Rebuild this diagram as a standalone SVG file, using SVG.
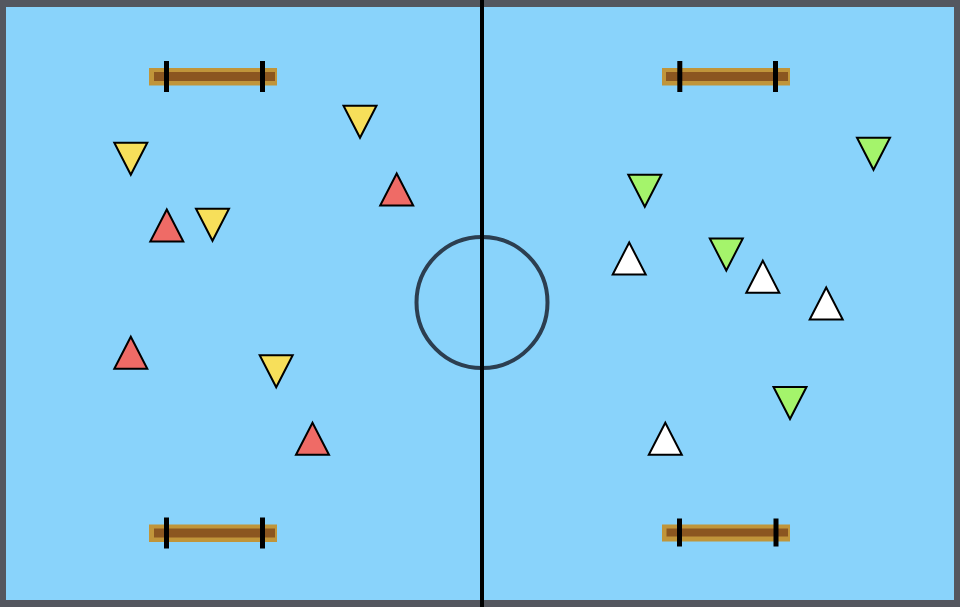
<svg xmlns="http://www.w3.org/2000/svg" xmlns:xlink="http://www.w3.org/1999/xlink" width="960" height="607" viewBox="0 0 960 607">
<style>
.bench-outer{fill:#c0953a}
.bench-inner{fill:#8b5620}
.post{fill:#000}
.tri{stroke:#000;stroke-width:2;stroke-linejoin:miter}
.yellow{fill:#f7df5a}
.red{fill:#ef6b66}
.green{fill:#a4f46b}
.white{fill:#ffffff}
</style>
<defs>
<path id="up" d="M0,-16.5 L16.5,15.5 L-16.5,15.5 Z"/>
<path id="down" d="M-16.5,-15.5 L16.5,-15.5 L0,16.5 Z"/>
<g id="bench">
<rect class="bench-outer" x="0" y="0" width="128" height="17.5"/>
<rect class="bench-inner" x="5" y="4" width="121" height="9"/>
<rect class="post" x="15" y="-7" width="5" height="31"/>
<rect class="post" x="111" y="-7" width="5" height="31"/>
</g>
</defs>
<g id="field">
<rect x="0" y="0" width="960" height="607" fill="#54575f"/>
<rect x="6" y="7" width="948" height="593" fill="#89d3fb"/>
<circle cx="482" cy="302.5" r="65.5" fill="none" stroke="#2c3e50" stroke-width="4"/>
<rect x="480" y="0" width="4" height="607" fill="#000"/>
</g>
<g id="benches">
<use id="bench-tl" xlink:href="#bench" x="149" y="68"/>
<use id="bench-bl" xlink:href="#bench" x="149" y="524.5"/>
<g id="bench-tr" transform="translate(662,68)">
<rect class="bench-outer" x="0" y="0" width="128" height="17.5"/>
<rect class="bench-inner" x="4" y="4" width="122" height="9"/>
<rect class="post" x="15.3" y="-7" width="5" height="31"/>
<rect class="post" x="111" y="-7" width="5" height="31"/>
</g>
<g id="bench-br" transform="translate(662,524.5)">
<rect class="bench-outer" x="0" y="0" width="128" height="17"/>
<rect class="bench-inner" x="4.5" y="4" width="121.5" height="8"/>
<rect class="post" x="15" y="-6" width="5" height="28"/>
<rect class="post" x="111.5" y="-6" width="5" height="28"/>
</g>
</g>
<g id="team-yellow">
<use class="tri yellow" xlink:href="#down" x="130.8" y="158.3"/>
<use class="tri yellow" xlink:href="#down" x="360" y="121.3"/>
<use class="tri yellow" xlink:href="#down" x="212.5" y="224.3"/>
<use class="tri yellow" xlink:href="#down" x="276.2" y="370.8"/>
</g>
<g id="team-red">
<use class="tri red" xlink:href="#up" x="166.8" y="226"/>
<use class="tri red" xlink:href="#up" x="396.7" y="190"/>
<use class="tri red" xlink:href="#up" x="130.8" y="353.3"/>
<use class="tri red" xlink:href="#up" x="312.5" y="439.2"/>
</g>
<g id="team-green">
<use class="tri green" xlink:href="#down" x="644.8" y="190.3"/>
<use class="tri green" xlink:href="#down" x="873.5" y="153.3"/>
<use class="tri green" xlink:href="#down" x="726.3" y="254"/>
<use class="tri green" xlink:href="#down" x="790" y="402.5"/>
</g>
<g id="team-white">
<use class="tri white" xlink:href="#up" x="629.2" y="259"/>
<use class="tri white" xlink:href="#up" x="762.8" y="277.2"/>
<use class="tri white" xlink:href="#up" x="826.2" y="304"/>
<use class="tri white" xlink:href="#up" x="665.3" y="439.2"/>
</g>
</svg>
